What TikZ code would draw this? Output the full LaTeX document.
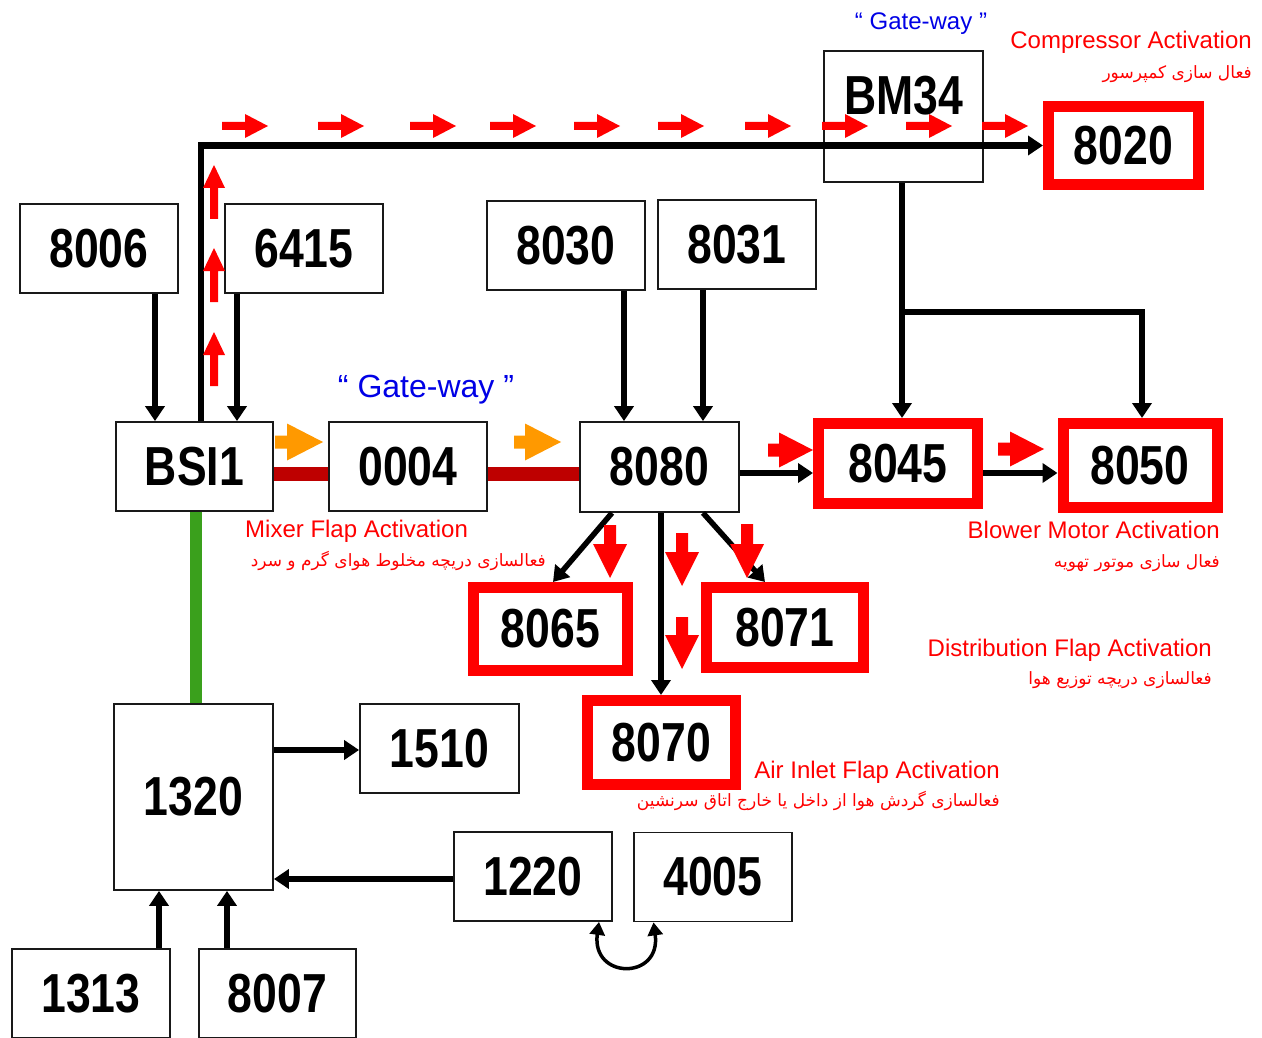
\documentclass[tikz,border=0pt]{standalone}
\usepackage{fontspec}
\usepackage{graphicx}
\setmainfont{Liberation Sans}
\newfontfamily\fafont[Script=Arabic]{DejaVu Sans}
\TeXXeTstate=1
\usetikzlibrary{arrows.meta,calc}
\newcommand\numfont{\fontsize{55}{60}\selectfont\bfseries}
\newcommand\bnum[1]{\scalebox{0.81}[1]{#1}}
\definecolor{darkred}{RGB}{190,0,0}
\definecolor{busgreen}{RGB}{58,160,28}
\definecolor{gwblue}{RGB}{0,0,230}
\definecolor{orng}{RGB}{255,153,0}
\begin{document}
\begin{tikzpicture}[x=1pt,y=-1pt,
  box/.style={draw=black!90, line width=1.8pt, fill=white, inner sep=0pt,
    minimum width=158pt, minimum height=89pt, font=\numfont},
  redbox/.style={draw=red, line width=11pt, fill=white, inner sep=0pt, font=\numfont},
  conn/.style={draw=black, line width=5.5pt, -{Triangle[length=15pt,width=19pt]}},
  redline/.style={draw=darkred, line width=14pt},
  greenline/.style={draw=busgreen, line width=12pt},
  lbl/.style={text=red, font=\fontsize{24}{28}\selectfont, inner sep=0pt},
  fa/.style={text=red, font=\fafont\fontsize{17}{21}\selectfont, inner sep=0pt},
  gw/.style={text=gwblue, inner sep=0pt},
  pics/barrow/.style n args={5}{code={%
    \fill[#1] (0,-#3) -- (#2-#4,-#3) -- (#2-#4,-#5) -- (#2,0) -- (#2-#4,#5) -- (#2-#4,#3) -- (0,#3) -- cycle;}}
]
\useasboundingbox[fill=white] (0,0) rectangle (1262,1038);

% boxes
\node[box] (n8006) at (99,248.5) {\bnum{8006}};
\node[box] (n6415) at (304,248.5) {\bnum{6415}};
\node[box] (n8030) at (566,245.5) {\bnum{8030}};
\node[box] (n8031) at (737,244.5) {\bnum{8031}};
\node[box,minimum width=157pt] (bsi) at (194.5,466.5) {\bnum{BSI1}};
\node[box] (n0004) at (408,466.5) {\bnum{0004}};
\node[box,minimum width=159pt,minimum height=90pt] (n8080) at (659.5,467) {\bnum{8080}};
\node[box,minimum width=159pt,minimum height=131pt,
  label={[font=\numfont,inner sep=0pt,yshift=21pt]center:\bnum{BM34}}] (bm34) at (903.5,116.5) {};

\node[redbox,minimum width=150pt,minimum height=78pt] (n8020) at (1123.5,145.5) {\bnum{8020}};
\node[redbox,minimum width=159pt,minimum height=80pt] (n8045) at (898,463.5) {\bnum{8045}};
\node[redbox,minimum width=154pt,minimum height=84pt] (n8050) at (1140,465.5) {\bnum{8050}};
\node[redbox,minimum width=154pt,minimum height=83pt] (n8065) at (550.5,629) {\bnum{8065}};
\node[redbox,minimum width=157pt,minimum height=80pt] (n8071) at (785,627.5) {\bnum{8071}};
\node[redbox,minimum width=148pt,minimum height=84pt] (n8070) at (661.5,742.5) {\bnum{8070}};

\node[box,minimum width=159pt,minimum height=186pt] (n1320) at (193.5,797) {\bnum{1320}};
\node[box,minimum width=159pt] (n1510) at (439.5,748.5) {\bnum{1510}};
\node[box] (n1220) at (533,876.5) {\bnum{1220}};
\node[box] (n4005) at (713,877) {\bnum{4005}};
\node[box] (n1313) at (91,993.5) {\bnum{1313}};
\node[box,minimum width=157pt] (n8007) at (277.5,993.5) {\bnum{8007}};

% connectors
\draw[conn] ([xshift=56pt]n8006.south) -- ([xshift=-39.5pt]bsi.north);
\draw[conn] ([xshift=-67pt]n6415.south) -- ([xshift=42.5pt]bsi.north);
\draw[conn,line width=6.5pt,line join=miter] ([xshift=6.5pt]bsi.north) |- (n8020.west);
\draw[redline] ([yshift=-7.5pt]bsi.east) -- ([yshift=-7.5pt]n0004.west);
\draw[redline] ([yshift=-7.5pt]n0004.east) -- ([yshift=-7pt]n8080.west);
\draw[conn] ([xshift=58pt]n8030.south) -- ([xshift=-35.5pt]n8080.north);
\draw[conn] ([xshift=-34pt]n8031.south) -- ([xshift=43.5pt]n8080.north);
\draw[conn] ([yshift=-6pt]n8080.east) -- ([yshift=-9.5pt]n8045.west);
\draw[conn] ([yshift=-9.5pt]n8045.east) -- ([yshift=-7.5pt]n8050.west);
\draw[conn] ([xshift=-1.5pt]bm34.south) -- ([xshift=4pt]n8045.north);
\coordinate (br) at (902,312);
\draw[conn,line join=miter] (br) -| ([xshift=2pt]n8050.north);
\draw[conn] ([xshift=-47.5pt]n8080.south) -- ([xshift=2.5pt]n8065.north);
\draw[conn] ([xshift=43.5pt]n8080.south) -- ([xshift=-20pt]n8071.north);
\draw[conn] ([xshift=1.5pt]n8080.south) -- ([xshift=-0.5pt]n8070.north);
\draw[greenline] ([xshift=1.5pt]bsi.south) -- ([xshift=2.5pt]n1320.north);
\draw[conn] ([yshift=47pt]n1320.east) -- ([yshift=-1.5pt]n1510.west);
\draw[conn] ([yshift=-2.5pt]n1220.west) -- ([yshift=-82pt]n1320.east);
\draw[conn] ([xshift=68pt]n1313.north) -- ([xshift=-34.5pt]n1320.south);
\draw[conn] ([xshift=-50.5pt]n8007.north) -- ([xshift=33.5pt]n1320.south);
\draw[line width=3.5pt,{Triangle[length=13pt,width=15pt]}-{Triangle[length=13pt,width=15pt]}]
  ([xshift=66pt]n1220.south) .. controls +(-8,58) and +(8,58) .. ([xshift=-59.5pt]n4005.south);

% decorative block arrows
\foreach \x in {222,318,410,490,574,658,745,822,906,982}
  \pic at (\x,126) {barrow={red}{46}{4}{23}{12}};
\foreach \y in {386,302,219}
  \pic[rotate=90] at (214,\y) {barrow={red}{54}{4}{23}{11}};
\pic at (768,450) {barrow={red}{45}{6.5}{34}{17.5}};
\pic at (998,449) {barrow={red}{46}{6.5}{34}{17.5}};
\pic[rotate=-90] at (610,525) {barrow={red}{53}{6}{34}{17}};
\pic[rotate=-90] at (682,533) {barrow={red}{53}{6}{34}{17}};
\pic[rotate=-90] at (682,617) {barrow={red}{52}{6}{34}{17}};
\pic[rotate=-90] at (747,524) {barrow={red}{54}{6}{34}{17}};
\pic at (275,442) {barrow={orng}{48}{6.5}{36}{18.5}};
\pic at (514,442) {barrow={orng}{47}{6.5}{36}{18.5}};

% labels
\node[gw,anchor=base,font=\fontsize{24}{28}\selectfont] (gw1) at (921,30) {“ Gate-way ”};
\node[gw,anchor=base,font=\fontsize{32}{36}\selectfont] (gw2) at (426,397) {“ Gate-way ”};
\node[lbl,anchor=base east] (t1) at (1252,49) {Compressor Activation};
\node[fa,anchor=base east] (f1) at (1252,79) {\beginR فعال سازی کمپرسور\endR};
\node[lbl,anchor=base west] (t2) at (245,537) {Mixer Flap Activation};
\node[fa,anchor=base east] (f2) at (546,566) {\beginR فعالسازی دریچه مخلوط هوای گرم و سرد\endR};
\node[lbl,anchor=base east] (t3) at (1220,538) {Blower Motor Activation};
\node[fa,anchor=base east] (f3) at (1220,567) {\beginR فعال سازی موتور تهویه\endR};
\node[lbl,anchor=base east] (t4) at (1212,656) {Distribution Flap Activation};
\node[fa,anchor=base east] (f4) at (1212,684) {\beginR فعالسازی دریچه توزیع هوا\endR};
\node[lbl,anchor=base east] (t5) at (1000,778) {Air Inlet Flap Activation};
\node[fa,anchor=base east] (f5) at (1000,806) {\beginR فعالسازی گردش هوا از داخل یا خارج اتاق سرنشین\endR};
\end{tikzpicture}
\end{document}
